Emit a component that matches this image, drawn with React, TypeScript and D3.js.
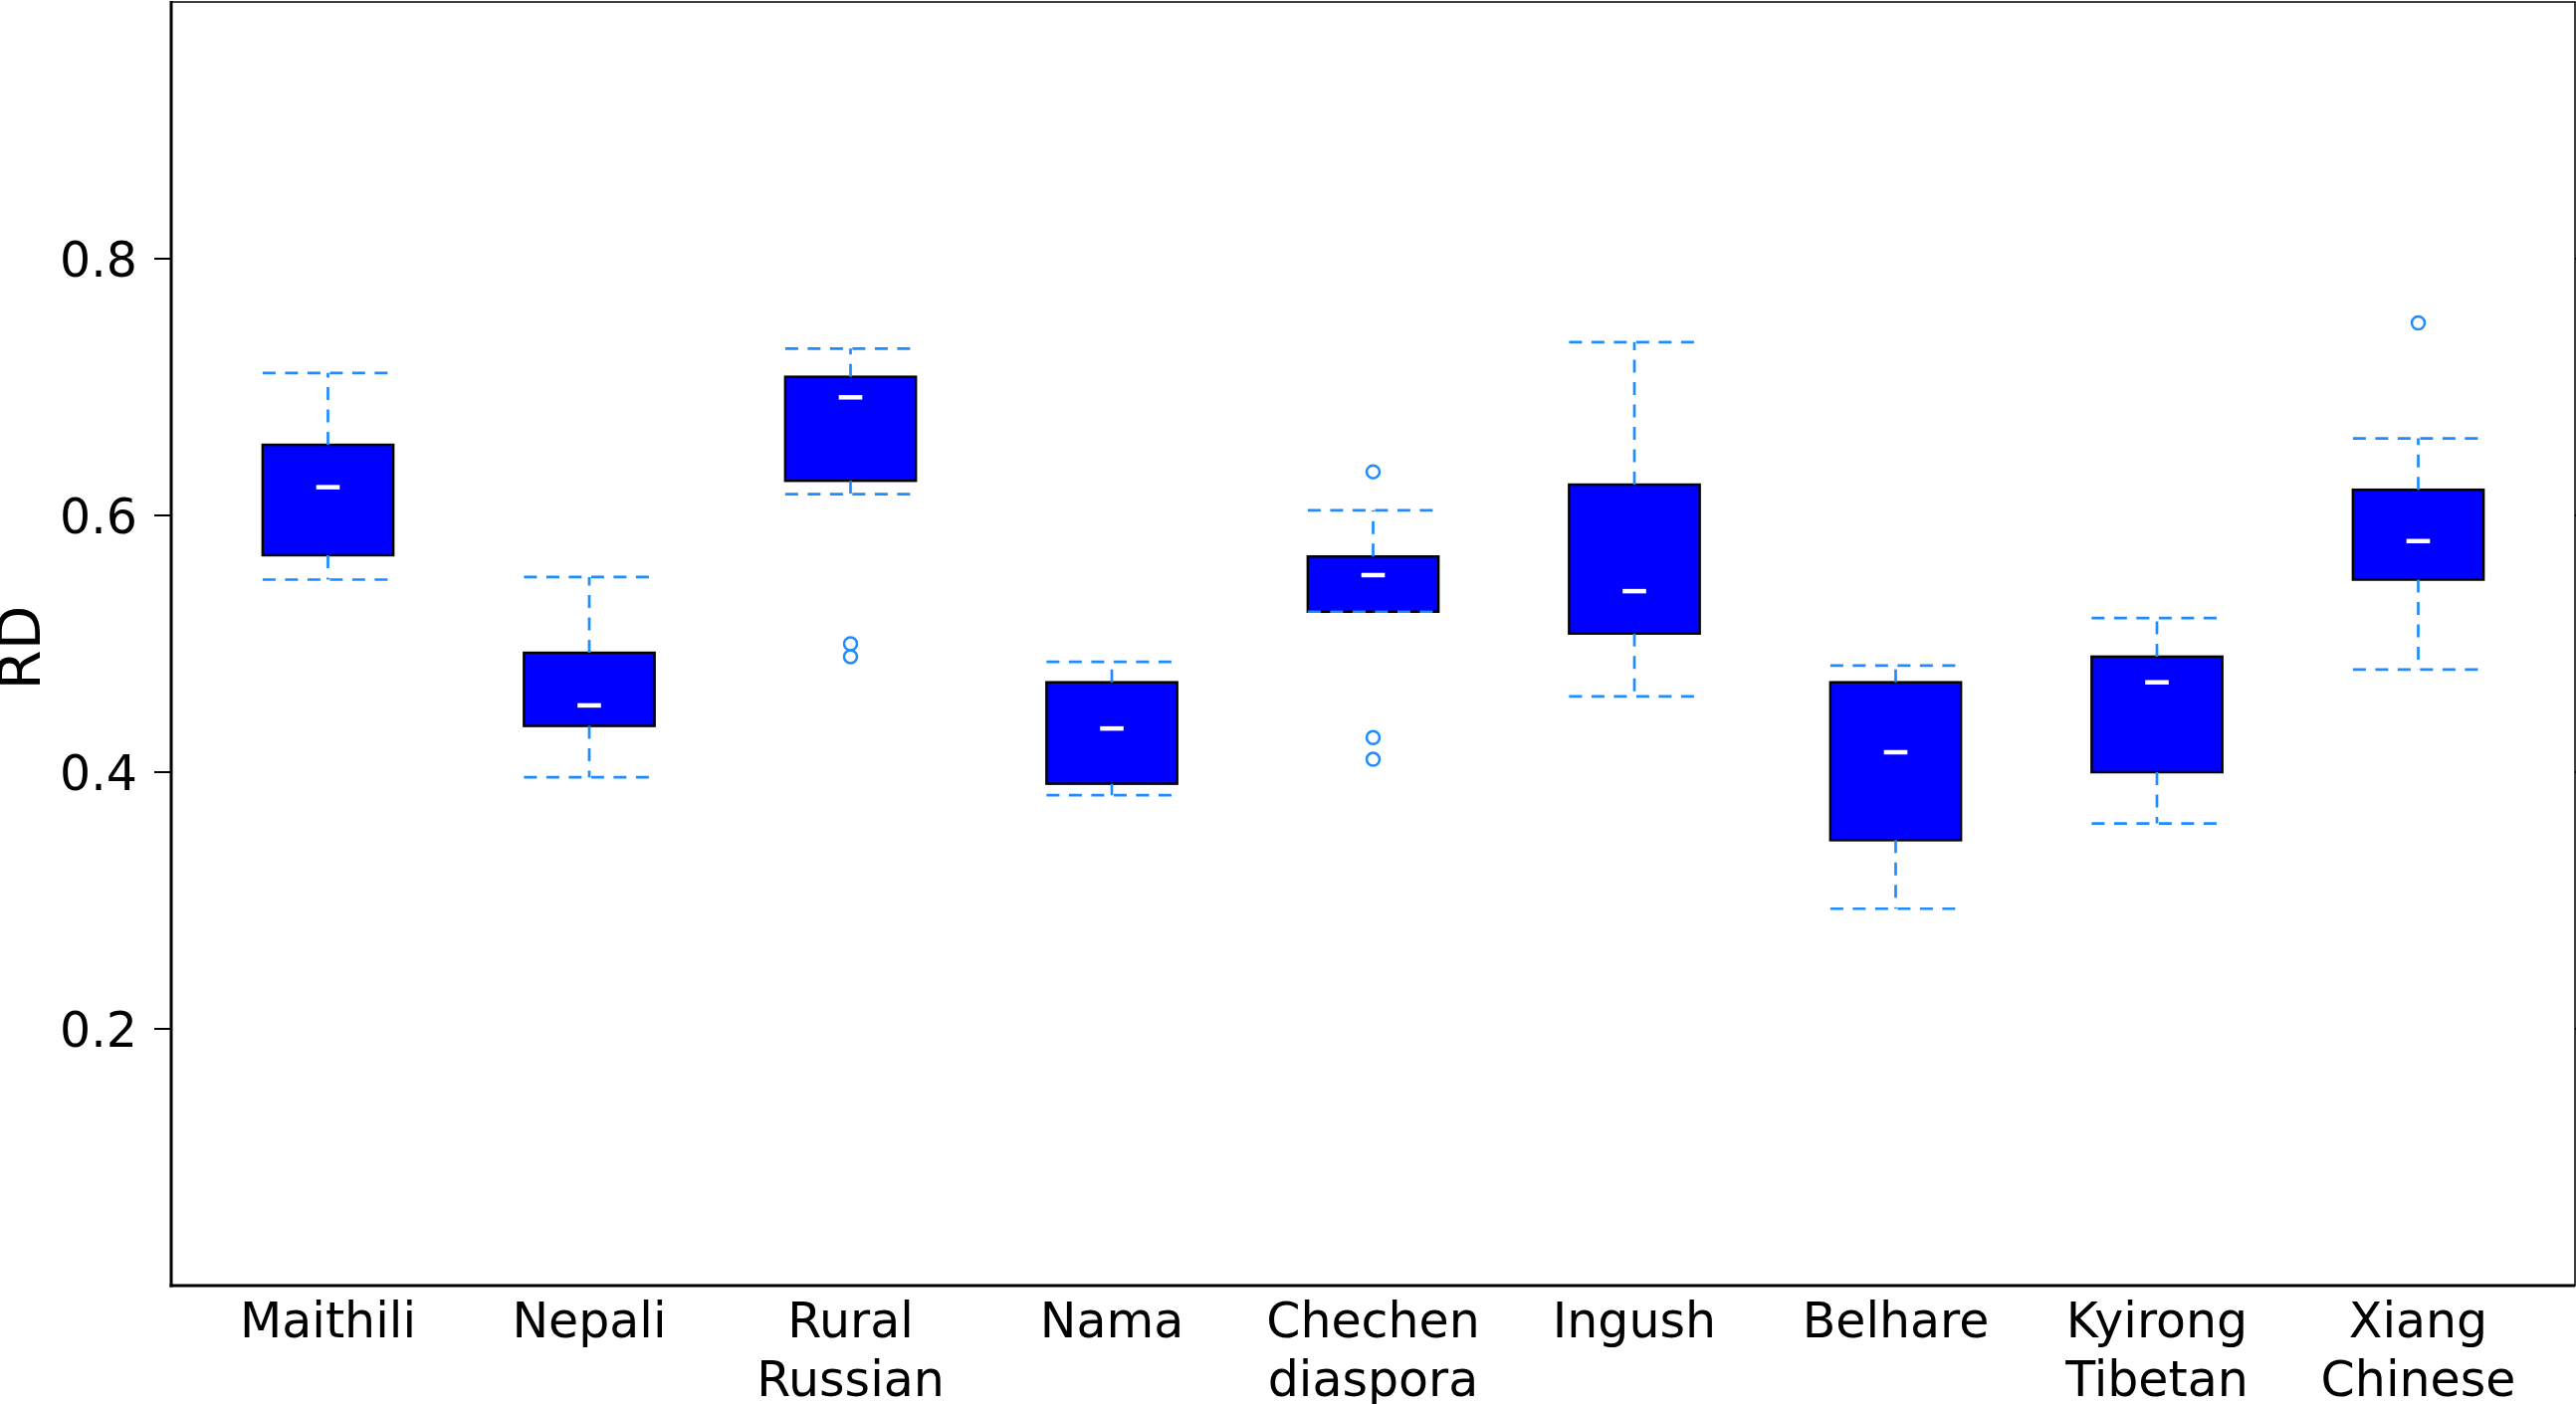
import React from "react";
import * as d3 from "d3";

// Category labels (one entry per line of the tick label)
const categoryLines: string[][] = [
  ["Maithili"],
  ["Nepali"],
  ["Rural", "Russian"],
  ["Nama"],
  ["Chechen", "diaspora"],
  ["Ingush"],
  ["Belhare"],
  ["Kyirong", "Tibetan"],
  ["Xiang", "Chinese"],
];

// Box statistics per category
const whiskerHigh = [0.711, 0.552, 0.730, 0.486, 0.604, 0.735, 0.483, 0.520, 0.660];
const upperQuartile = [0.655, 0.493, 0.708, 0.470, 0.568, 0.624, 0.470, 0.490, 0.620];
const medians = [0.622, 0.452, 0.692, 0.434, 0.5535, 0.541, 0.4155, 0.470, 0.580];
const lowerQuartile = [0.569, 0.436, 0.627, 0.391, 0.525, 0.508, 0.347, 0.400, 0.550];
const whiskerLow = [0.550, 0.396, 0.6165, 0.382, 0.525, 0.459, 0.2936, 0.360, 0.480];
const outliers: number[][] = [
  [],
  [],
  [0.500, 0.490],
  [],
  [0.634, 0.427, 0.410],
  [],
  [],
  [],
  [0.750],
];

const yTicks = [0.2, 0.4, 0.6, 0.8];
const yLabel = "RD";

const W = 2588;
const H = 1411;
const left = 172;
const right = 2587;
const top = 2;
const bottom = 1292;

const BOX_WIDTH = 0.5;
const MEDIAN_HALF = 0.045;
const WHISKER = "#1e8cff";
const FONT = "'DejaVu Sans', sans-serif";

export default function App() {
  const x = d3.scaleLinear().domain([0.4, 9.6]).range([left, right]);
  const y = d3.scaleLinear().domain([0, 1]).range([bottom, top]);
  const line = d3.line<[number, number]>();
  const dash = "13,9.5";

  return (
    <svg
      width={W}
      height={H}
      viewBox={`0 0 ${W} ${H}`}
      style={{ position: "absolute", left: 0, top: 0, display: "block", background: "#fff" }}
      fontFamily={FONT}
    >
      <rect x={0} y={0} width={W} height={H} fill="#fff" />

      {categoryLines.map((_, i) => {
        const c = i + 1;
        const x0 = x(c - BOX_WIDTH / 2);
        const x1 = x(c + BOX_WIDTH / 2);
        const cx = x(c);
        return (
          <g key={i}>
            <rect
              x={x0}
              y={y(upperQuartile[i])}
              width={x1 - x0}
              height={y(lowerQuartile[i]) - y(upperQuartile[i])}
              fill="#0000ff"
              stroke="#000"
              strokeWidth={2.5}
            />
            {/* whiskers, drawn outward from the box edges */}
            <path
              d={line([[cx, y(upperQuartile[i])], [cx, y(whiskerHigh[i])]]) ?? ""}
              stroke={WHISKER}
              strokeWidth={2.7}
              strokeDasharray={dash}
              fill="none"
            />
            <path
              d={line([[cx, y(lowerQuartile[i])], [cx, y(whiskerLow[i])]]) ?? ""}
              stroke={WHISKER}
              strokeWidth={2.7}
              strokeDasharray={dash}
              fill="none"
            />
            {/* caps */}
            <path
              d={line([[x0, y(whiskerHigh[i])], [x1, y(whiskerHigh[i])]]) ?? ""}
              stroke={WHISKER}
              strokeWidth={2.7}
              strokeDasharray={dash}
              fill="none"
            />
            <path
              d={line([[x0, y(whiskerLow[i])], [x1, y(whiskerLow[i])]]) ?? ""}
              stroke={WHISKER}
              strokeWidth={2.7}
              strokeDasharray={dash}
              fill="none"
            />
            {/* median */}
            <line
              x1={x(c - MEDIAN_HALF)}
              x2={x(c + MEDIAN_HALF)}
              y1={y(medians[i])}
              y2={y(medians[i])}
              stroke="#fff"
              strokeWidth={4.5}
            />
            {outliers[i].map((v, k) => (
              <circle
                key={k}
                cx={cx}
                cy={y(v)}
                r={6.5}
                fill="none"
                stroke={WHISKER}
                strokeWidth={2.5}
              />
            ))}
          </g>
        );
      })}

      {/* frame */}
      <rect
        x={left}
        y={top}
        width={right - left}
        height={bottom - top}
        fill="none"
        stroke="#000"
        strokeWidth={1.5}
      />
      <line x1={left} x2={left} y1={top - 1} y2={bottom + 1.5} stroke="#000" strokeWidth={3} />
      <line x1={left - 1.5} x2={right} y1={bottom} y2={bottom} stroke="#000" strokeWidth={3} />

      {/* y ticks */}
      {yTicks.map((t) => (
        <g key={t}>
          <line x1={left - 17} x2={left} y1={y(t)} y2={y(t)} stroke="#000" strokeWidth={2} />
          <line x1={right} x2={right + 17} y1={y(t)} y2={y(t)} stroke="#000" strokeWidth={2} />
          <text
            x={left - 34}
            y={y(t)}
            dy="0.37em"
            textAnchor="end"
            fontSize={49}
            fill="#000"
          >
            {d3.format(".1f")(t)}
          </text>
        </g>
      ))}

      {/* x tick labels */}
      {categoryLines.map((lines, i) => (
        <text
          key={i}
          x={x(i + 1)}
          y={bottom + 52}
          textAnchor="middle"
          fontSize={49}
          fill="#000"
        >
          {lines.map((s, k) => (
            <tspan key={k} x={x(i + 1)} dy={k === 0 ? 0 : 59}>
              {s}
            </tspan>
          ))}
        </text>
      ))}

      <text
        transform={`translate(40, ${(top + bottom) / 2 + 4}) rotate(-90)`}
        textAnchor="middle"
        fontSize={58}
        fill="#000"
      >
        {yLabel}
      </text>
    </svg>
  );
}
